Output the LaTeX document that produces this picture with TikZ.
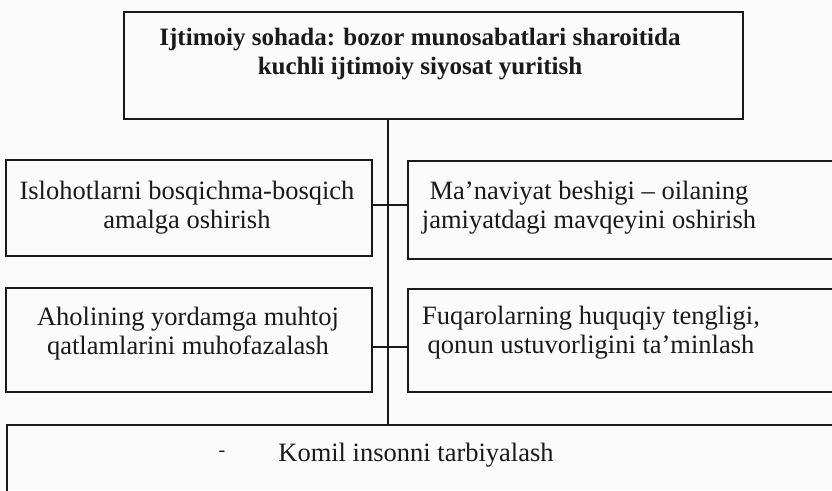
\documentclass[tikz,border=0pt]{standalone}
\usepackage{fontspec}
\setmainfont{Liberation Serif}
\definecolor{ink}{HTML}{1A1A1A}
\definecolor{paper}{HTML}{FBFBFB}
\tikzset{
  box/.style={draw=ink, line width=1.7pt, rectangle, inner sep=0pt},
  conn/.style={draw=ink, line width=1.7pt},
  txt/.style={text=ink, align=center, inner sep=0pt, font=\fontsize{26.5}{29}\selectfont},
  btxt/.style={text=ink, align=center, inner sep=0pt, font=\fontsize{25}{29}\selectfont\bfseries},
}
\begin{document}
\begin{tikzpicture}[x=1pt, y=-1pt]
\useasboundingbox (0,0) rectangle (832,490);
\fill[paper] (0,0) rectangle (832,490);
\clip (0,0) rectangle (832,490);
% boxes
\node[box, minimum width=619pt, minimum height=107pt] (top) at (433.5,65.5) {};
\node[box, minimum width=366pt, minimum height=96pt] (lb1) at (189,208) {};
\node[box, minimum width=442pt, minimum height=98pt] (rb1) at (629,210) {};
\node[box, minimum width=366pt, minimum height=104pt] (lb2) at (189,340) {};
\node[box, minimum width=442pt, minimum height=103pt] (rb2) at (629,340.5) {};
\node[box, minimum width=843pt, minimum height=85pt] (bot) at (428.5,467.5) {};
% texts
\node[btxt] (ttop) at (420,54) {Ijtimoiy sohada: bozor munosabatlari sharoitida\\kuchli ijtimoiy siyosat yuritish};
\node[txt] (tlb1) at (187,208) {Islohotlarni bosqichma-bosqich\\amalga oshirish};
\node[txt] (trb1) at (589,208) {Ma’naviyat beshigi – oilaning\\jamiyatdagi mavqeyini oshirish};
\node[txt] (tlb2) at (188,334) {Aholining yordamga muhtoj\\qatlamlarini muhofazalash};
\node[txt] (trb2) at (591,333) {Fuqarolarning huquqiy tengligi,\\qonun ustuvorligini ta’minlash};
\node[txt] (tbot) at (416,455) {Komil insonni tarbiyalash};
\node[txt, font=\fontsize{20}{22}\selectfont] (tdash) at (222,454) {-};
% connectors
\coordinate (spine) at (388,0);
\draw[conn] (top.south -| spine) -- (bot.north -| spine);
\draw[conn] (lb1.east |- 0,205) -- (rb1.west |- 0,205);
\draw[conn] (lb2.east |- 0,347) -- (rb2.west |- 0,347);
\end{tikzpicture}
\end{document}
